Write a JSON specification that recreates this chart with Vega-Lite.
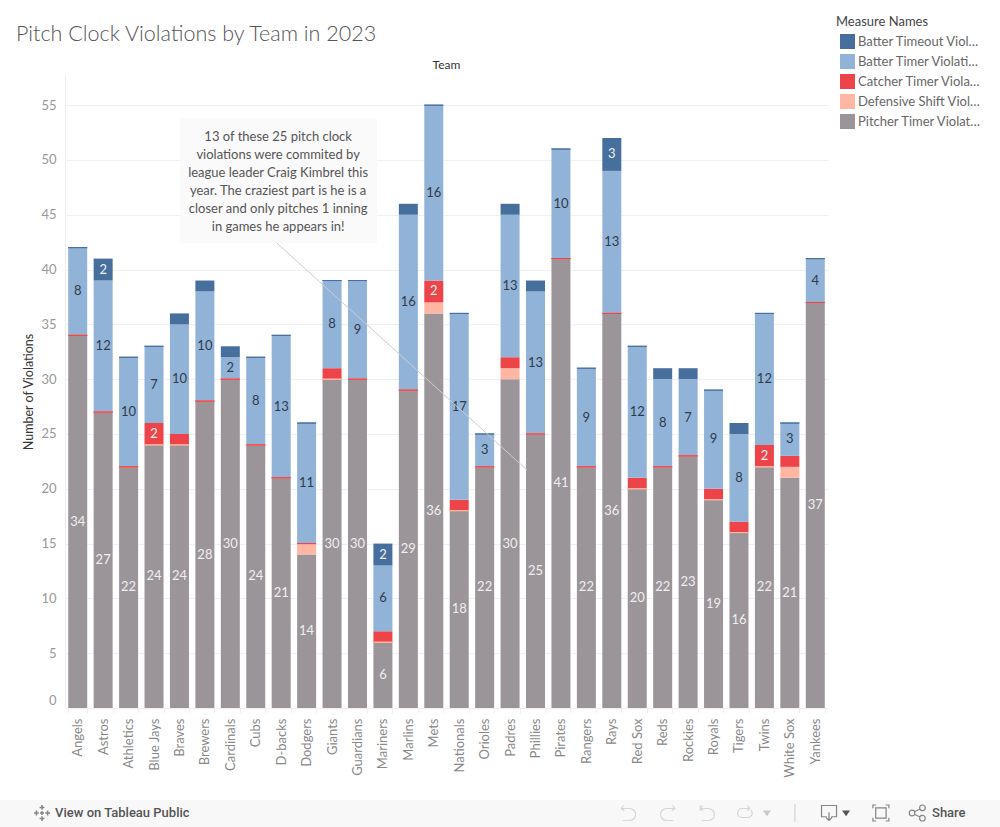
{
"$schema":"https://vega.github.io/schema/vega-lite/v6.json",
"width":763,"height":633,
"autosize":"none",
"padding":{"left":65,"top":75,"right":172,"bottom":119},
"background":"#ffffff",
"config":{"view":{"stroke":null},"font":"Lato"},
"data":{"values":[
{"Team":"Angels","Pitcher Timer Violations":34,"Defensive Shift Violations":0,"Catcher Timer Violations":0,"Batter Timer Violations":8,"Batter Timeout Violations":0},
{"Team":"Astros","Pitcher Timer Violations":27,"Defensive Shift Violations":0,"Catcher Timer Violations":0,"Batter Timer Violations":12,"Batter Timeout Violations":2},
{"Team":"Athletics","Pitcher Timer Violations":22,"Defensive Shift Violations":0,"Catcher Timer Violations":0,"Batter Timer Violations":10,"Batter Timeout Violations":0},
{"Team":"Blue Jays","Pitcher Timer Violations":24,"Defensive Shift Violations":0,"Catcher Timer Violations":2,"Batter Timer Violations":7,"Batter Timeout Violations":0},
{"Team":"Braves","Pitcher Timer Violations":24,"Defensive Shift Violations":0,"Catcher Timer Violations":1,"Batter Timer Violations":10,"Batter Timeout Violations":1},
{"Team":"Brewers","Pitcher Timer Violations":28,"Defensive Shift Violations":0,"Catcher Timer Violations":0,"Batter Timer Violations":10,"Batter Timeout Violations":1},
{"Team":"Cardinals","Pitcher Timer Violations":30,"Defensive Shift Violations":0,"Catcher Timer Violations":0,"Batter Timer Violations":2,"Batter Timeout Violations":1},
{"Team":"Cubs","Pitcher Timer Violations":24,"Defensive Shift Violations":0,"Catcher Timer Violations":0,"Batter Timer Violations":8,"Batter Timeout Violations":0},
{"Team":"D-backs","Pitcher Timer Violations":21,"Defensive Shift Violations":0,"Catcher Timer Violations":0,"Batter Timer Violations":13,"Batter Timeout Violations":0},
{"Team":"Dodgers","Pitcher Timer Violations":14,"Defensive Shift Violations":1,"Catcher Timer Violations":0,"Batter Timer Violations":11,"Batter Timeout Violations":0},
{"Team":"Giants","Pitcher Timer Violations":30,"Defensive Shift Violations":0,"Catcher Timer Violations":1,"Batter Timer Violations":8,"Batter Timeout Violations":0},
{"Team":"Guardians","Pitcher Timer Violations":30,"Defensive Shift Violations":0,"Catcher Timer Violations":0,"Batter Timer Violations":9,"Batter Timeout Violations":0},
{"Team":"Mariners","Pitcher Timer Violations":6,"Defensive Shift Violations":0,"Catcher Timer Violations":1,"Batter Timer Violations":6,"Batter Timeout Violations":2},
{"Team":"Marlins","Pitcher Timer Violations":29,"Defensive Shift Violations":0,"Catcher Timer Violations":0,"Batter Timer Violations":16,"Batter Timeout Violations":1},
{"Team":"Mets","Pitcher Timer Violations":36,"Defensive Shift Violations":1,"Catcher Timer Violations":2,"Batter Timer Violations":16,"Batter Timeout Violations":0},
{"Team":"Nationals","Pitcher Timer Violations":18,"Defensive Shift Violations":0,"Catcher Timer Violations":1,"Batter Timer Violations":17,"Batter Timeout Violations":0},
{"Team":"Orioles","Pitcher Timer Violations":22,"Defensive Shift Violations":0,"Catcher Timer Violations":0,"Batter Timer Violations":3,"Batter Timeout Violations":0},
{"Team":"Padres","Pitcher Timer Violations":30,"Defensive Shift Violations":1,"Catcher Timer Violations":1,"Batter Timer Violations":13,"Batter Timeout Violations":1},
{"Team":"Phillies","Pitcher Timer Violations":25,"Defensive Shift Violations":0,"Catcher Timer Violations":0,"Batter Timer Violations":13,"Batter Timeout Violations":1},
{"Team":"Pirates","Pitcher Timer Violations":41,"Defensive Shift Violations":0,"Catcher Timer Violations":0,"Batter Timer Violations":10,"Batter Timeout Violations":0},
{"Team":"Rangers","Pitcher Timer Violations":22,"Defensive Shift Violations":0,"Catcher Timer Violations":0,"Batter Timer Violations":9,"Batter Timeout Violations":0},
{"Team":"Rays","Pitcher Timer Violations":36,"Defensive Shift Violations":0,"Catcher Timer Violations":0,"Batter Timer Violations":13,"Batter Timeout Violations":3},
{"Team":"Red Sox","Pitcher Timer Violations":20,"Defensive Shift Violations":0,"Catcher Timer Violations":1,"Batter Timer Violations":12,"Batter Timeout Violations":0},
{"Team":"Reds","Pitcher Timer Violations":22,"Defensive Shift Violations":0,"Catcher Timer Violations":0,"Batter Timer Violations":8,"Batter Timeout Violations":1},
{"Team":"Rockies","Pitcher Timer Violations":23,"Defensive Shift Violations":0,"Catcher Timer Violations":0,"Batter Timer Violations":7,"Batter Timeout Violations":1},
{"Team":"Royals","Pitcher Timer Violations":19,"Defensive Shift Violations":0,"Catcher Timer Violations":1,"Batter Timer Violations":9,"Batter Timeout Violations":0},
{"Team":"Tigers","Pitcher Timer Violations":16,"Defensive Shift Violations":0,"Catcher Timer Violations":1,"Batter Timer Violations":8,"Batter Timeout Violations":1},
{"Team":"Twins","Pitcher Timer Violations":22,"Defensive Shift Violations":0,"Catcher Timer Violations":2,"Batter Timer Violations":12,"Batter Timeout Violations":0},
{"Team":"White Sox","Pitcher Timer Violations":21,"Defensive Shift Violations":1,"Catcher Timer Violations":1,"Batter Timer Violations":3,"Batter Timeout Violations":0},
{"Team":"Yankees","Pitcher Timer Violations":37,"Defensive Shift Violations":0,"Catcher Timer Violations":0,"Batter Timer Violations":4,"Batter Timeout Violations":0}
]},
"resolve":{"scale":{"x":"independent"}},
"layer":[
{"transform":[{"fold":["Pitcher Timer Violations","Defensive Shift Violations","Catcher Timer Violations","Batter Timer Violations","Batter Timeout Violations"],"as":["Measure","Count"]}],
 "layer":[
 {"mark":{"type":"bar","size":19},
  "encoding":{
   "x":{"field":"Team","type":"nominal","sort":null,"title":null,"scale":{"paddingInner":0.25,"paddingOuter":0.125},
     "axis":{"orient":"bottom","labelAngle":270,"labelColor":"#888888","labelFontSize":13,"labelPadding":5,"labelOverlap":false,"labelLimit":100,"domainColor":"#eeeeee","tickColor":"#eeeeee","tickBand":"extent","tickSize":5,"grid":false}},
   "y":{"field":"Count","type":"quantitative","stack":"zero","title":"Number of Violations","scale":{"domain":[0,57.75],"nice":false,"zero":false},
     "axis":{"values":[0,5,10,15,20,25,30,35,40,45,50,55],"grid":true,"gridColor":"#f0f0f0","domainColor":"#eeeeee","ticks":false,"labelColor":"#999999","labelFontSize":13,"labelPadding":9,"labelFlush":true,"labelFlushOffset":-1,"titleColor":"#333333","titleFontSize":12.5,"titleFontWeight":"normal","titleX":-30}},
   "order":{"field":"Measure","sort":"descending"},
   "color":{"field":"Measure","type":"nominal","title":"Measure Names",
     "scale":{"domain":["Batter Timeout Violations","Batter Timer Violations","Catcher Timer Violations","Defensive Shift Violations","Pitcher Timer Violations"],"range":["#466f9d","#91b3d7","#ed444a","#ffb6a2","#9b9499"]},
     "legend":{"orient":"none","legendX":771,"legendY":-59,"symbolType":"square","symbolSize":225,"symbolStrokeWidth":0,"symbolOffset":4,"rowPadding":5,"labelLimit":126,"labelOffset":3,"labelColor":"#666666","labelFontSize":13,"titleColor":"#444444","titleFontSize":13,"titleFontWeight":"normal","titlePadding":5}}
  }},
 {"mark":{"type":"bar","size":19,"fillOpacity":0,"strokeWidth":1},
  "encoding":{
   "x":{"field":"Team","type":"nominal","sort":null},
   "y":{"field":"Count","type":"quantitative","stack":"zero"},
   "order":{"field":"Measure","sort":"descending"},
   "stroke":{"field":"Measure","type":"nominal","legend":null,
     "scale":{"domain":["Batter Timeout Violations","Batter Timer Violations","Catcher Timer Violations","Defensive Shift Violations","Pitcher Timer Violations"],"range":["#466f9d","#91b3d7","#ed444a","#ffb6a2","#9b9499"]}},
   "strokeOpacity":{"condition":{"test":"datum.Count==0","value":1},"value":0}
  }},
 {"mark":{"type":"text","fontSize":13,"baseline":"middle"},
  "encoding":{
   "x":{"field":"Team","type":"nominal","sort":null},
   "y":{"field":"Count","type":"quantitative","stack":"zero","bandPosition":0.5},
   "order":{"field":"Measure","sort":"descending"},
   "text":{"condition":{"test":"datum.Count>=2","field":"Count","type":"quantitative"},"value":""},
   "color":{"condition":{"test":"datum.Measure=='Batter Timer Violations'","value":"#2f3b4c"},"value":"#efefef"}
  }}
 ]},
{"layer":[
 {"data":{"values":[{"note":"box"}]},"mark":{"type":"rect","fill":"#fafafa"},
  "encoding":{"x":{"datum":4.52,"type":"quantitative","scale":{"domain":[0,30],"zero":false,"nice":false},"axis":null},"x2":{"datum":12.27},"y":{"datum":42.4,"type":"quantitative"},"y2":{"datum":53.8}}},
 {"data":{"values":[{"note":"leader"}]},"mark":{"type":"rule","stroke":"#cccccc","strokeWidth":1},
  "encoding":{"x":{"datum":8.34,"type":"quantitative","axis":null},"x2":{"datum":18.17},"y":{"datum":42.4,"type":"quantitative"},"y2":{"datum":21.7}}},
 {"data":{"values":[{"note":"text"}]},"mark":{"type":"text","text":["13 of these 25 pitch clock","violations were commited by","league leader Craig Kimbrel this","year. The craziest part is he is a","closer and only pitches 1 inning","in games he appears in!"],"lineHeight":18,"fontSize":13,"color":"#555555","align":"center","baseline":"middle"},
  "encoding":{"x":{"datum":8.38,"type":"quantitative","axis":null},"y":{"datum":52.1,"type":"quantitative"}}},
 {"data":{"values":[{"note":"title"}]},"mark":{"type":"text","text":"Pitch Clock Violations by Team in 2023","fontSize":21.5,"fontWeight":300,"color":"#555555","align":"left","baseline":"middle"},
  "encoding":{"x":{"datum":-1.927,"type":"quantitative","axis":null},"y":{"datum":61.4,"type":"quantitative"}}},
 {"data":{"values":[{"note":"team"}]},"mark":{"type":"text","text":"Team","fontSize":12,"color":"#333333","align":"center","baseline":"middle"},
  "encoding":{"x":{"datum":15,"type":"quantitative","axis":null},"y":{"datum":58.67,"type":"quantitative"}}},
 {"data":{"values":[{"note":"toolbar"}]},"mark":{"type":"rect","fill":"#f8f8f8"},
  "encoding":{"x":{"datum":-2.556,"type":"quantitative","axis":null},"x2":{"datum":36.77},"y":{"datum":-8.39,"type":"quantitative"},"y2":{"datum":-10.86}}},
 {"data":{"values":[{"note":"view"}]},"mark":{"type":"text","text":"View on Tableau Public","font":"Roboto","fontWeight":500,"fontSize":13,"color":"#555555","align":"left","baseline":"middle"},
  "encoding":{"x":{"datum":-0.39,"type":"quantitative","axis":null},"y":{"datum":-9.58,"type":"quantitative"}}},
 {"data":{"values":[{"note":"share"}]},"mark":{"type":"text","text":"Share","font":"Roboto","fontWeight":500,"fontSize":13,"color":"#555555","align":"left","baseline":"middle"},
  "encoding":{"x":{"datum":34.09,"type":"quantitative","axis":null},"y":{"datum":-9.58,"type":"quantitative"}}},
 {"data":{"values":[{"note":"logo"}]},"mark":{"type":"point","filled":false,"stroke":"#555555","strokeWidth":1.5,"size":256,"shape":"M0,-1V-0.4M-0.3,-0.7H0.3M0,0.4V1M-0.3,0.7H0.3M-1,0H-0.4M-0.7,-0.3V0.3M0.4,0H1M0.7,-0.3V0.3M-0.25,0H0.25M0,-0.25V0.25"},
  "encoding":{"x":{"datum":-0.904,"type":"quantitative","axis":null},"y":{"datum":-9.58,"type":"quantitative"}}},
 {"data":{"values":[{"note":"undo"}]},"mark":{"type":"point","filled":false,"stroke":"#c8c8c8","strokeWidth":1.2,"size":225,"shape":"M-0.6,-1L-0.9,-0.6L-0.5,-0.3M-0.9,-0.6H0.2A0.8,0.8 0 0 1 0.2,1H-0.7"},
  "encoding":{"x":{"datum":22.14,"type":"quantitative","axis":null},"y":{"datum":-9.58,"type":"quantitative"}}},
 {"data":{"values":[{"note":"redo"}]},"mark":{"type":"point","filled":false,"stroke":"#c8c8c8","strokeWidth":1.2,"size":225,"shape":"M0.6,-1L0.9,-0.6L0.5,-0.3M0.9,-0.6H-0.2A0.8,0.8 0 0 0 -0.2,1H0.7"},
  "encoding":{"x":{"datum":23.71,"type":"quantitative","axis":null},"y":{"datum":-9.58,"type":"quantitative"}}},
 {"data":{"values":[{"note":"revert"}]},"mark":{"type":"point","filled":false,"stroke":"#c8c8c8","strokeWidth":1.2,"size":225,"shape":"M-0.9,-1V-0.3M-0.6,-1L-0.9,-0.6L-0.5,-0.3M-0.9,-0.6H0.2A0.8,0.8 0 0 1 0.2,1H-0.7"},
  "encoding":{"x":{"datum":25.24,"type":"quantitative","axis":null},"y":{"datum":-9.58,"type":"quantitative"}}},
 {"data":{"values":[{"note":"refresh"}]},"mark":{"type":"point","filled":false,"stroke":"#c8c8c8","strokeWidth":1.2,"size":225,"shape":"M0.5,-0.6H-0.4A0.6,0.6 0 0 0 -0.4,0.6H0.4A0.6,0.6 0 0 0 0.8,-0.4M0.3,-1L0.6,-0.6L0.3,-0.3"},
  "encoding":{"x":{"datum":26.74,"type":"quantitative","axis":null},"y":{"datum":-9.58,"type":"quantitative"}}},
 {"data":{"values":[{"note":"caret1"}]},"mark":{"type":"point","filled":true,"fill":"#c8c8c8","opacity":1,"size":64,"shape":"M-1,-0.6H1L0,0.8Z"},
  "encoding":{"x":{"datum":27.6,"type":"quantitative","axis":null},"y":{"datum":-9.58,"type":"quantitative"}}},
 {"data":{"values":[{"note":"sep"}]},"mark":{"type":"rule","stroke":"#cccccc"},
  "encoding":{"x":{"datum":28.7,"type":"quantitative","axis":null},"y":{"datum":-8.75,"type":"quantitative"},"y2":{"datum":-10.4}}},
 {"data":{"values":[{"note":"download"}]},"mark":{"type":"point","filled":false,"stroke":"#555555","strokeWidth":1.2,"size":225,"shape":"M-0.3,0.5H-1V-1H1V0.5H0.3M0,-0.1V1M-0.4,0.6L0,1L0.4,0.6"},
  "encoding":{"x":{"datum":30.04,"type":"quantitative","axis":null},"y":{"datum":-9.58,"type":"quantitative"}}},
 {"data":{"values":[{"note":"caret2"}]},"mark":{"type":"point","filled":true,"fill":"#555555","opacity":1,"size":64,"shape":"M-1,-0.6H1L0,0.8Z"},
  "encoding":{"x":{"datum":30.71,"type":"quantitative","axis":null},"y":{"datum":-9.58,"type":"quantitative"}}},
 {"data":{"values":[{"note":"fullscreen"}]},"mark":{"type":"point","filled":false,"stroke":"#555555","strokeWidth":1.2,"size":256,"shape":"M-1,-0.6V-1H-0.6M0.6,-1H1V-0.6M1,0.6V1H0.6M-0.6,1H-1V0.6M-0.65,-0.65H0.65V0.65H-0.65Z"},
  "encoding":{"x":{"datum":32.08,"type":"quantitative","axis":null},"y":{"datum":-9.58,"type":"quantitative"}}},
 {"data":{"values":[{"note":"shareicon"}]},"mark":{"type":"point","filled":false,"stroke":"#555555","strokeWidth":1.2,"size":256,"shape":"M-0.4,0A0.35,0.35 0 1 1 -1.1,0A0.35,0.35 0 1 1 -0.4,0M0.9,-0.65A0.35,0.35 0 1 1 0.2,-0.65A0.35,0.35 0 1 1 0.9,-0.65M0.9,0.65A0.35,0.35 0 1 1 0.2,0.65A0.35,0.35 0 1 1 0.9,0.65M-0.45,-0.15L0.25,-0.5M-0.45,0.15L0.25,0.5"},
  "encoding":{"x":{"datum":33.54,"type":"quantitative","axis":null},"y":{"datum":-9.58,"type":"quantitative"}}}
]}
]
}
